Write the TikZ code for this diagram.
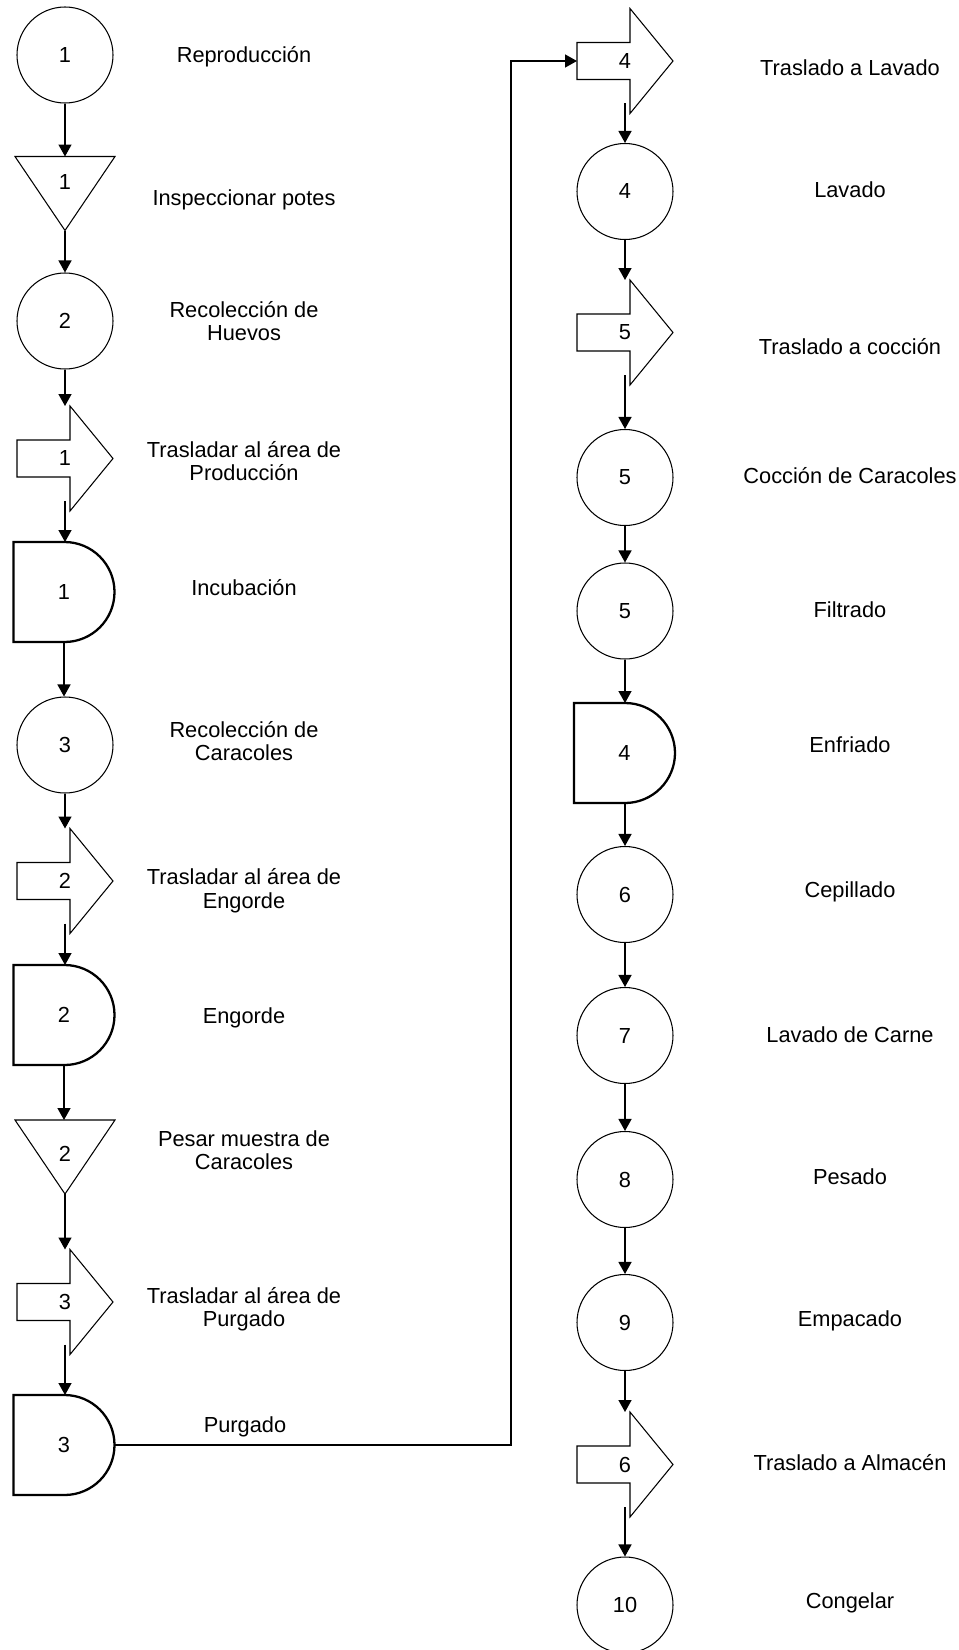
\documentclass[tikz,border=0pt]{standalone}
\usepackage{fontspec}
\setmainfont{Liberation Sans}
\usetikzlibrary{arrows.meta,calc}

\tikzset{
  caja/.style={rectangle, inner sep=0pt, outer sep=0pt, font=\fontsize{12.4}{13.4}\selectfont},
  operacion/.style={circle, draw, line width=0.6pt, minimum size=19.2mm, inner sep=0pt, font=\fontsize{12.4}{13.4}\selectfont},
  borde/.style={line width=0.6pt},
  bordegrueso/.style={line width=1.3pt},
  flecha/.style={line width=0.8pt, -{Triangle[width=2.6mm,length=2.4mm]}},
  desdetraslado/.style={flecha, shorten <=-2mm},
  texto/.style={align=center, font=\fontsize{12.4}{13.4}\selectfont}
}

% transporte: nombre, posicion, numero
\newcommand{\traslado}[3]{%
  \node[caja, minimum width=19.2mm, minimum height=21mm] (#1) at (#2) {#3};
  \draw[borde] (#1.west) ++(0,1.85) -- ++(5.3,0) -- ++(0,3.4) -- (#1.east)
    -- ++(-4.3,-5.25) -- ++(0,3.4) -- ++(-5.3,0) -- cycle;}

% inspeccion: nombre, posicion, numero, subida del numero
\newcommand{\inspeccion}[4]{%
  \node[caja, minimum width=20mm, minimum height=14.8mm] (#1) at (#2) {};
  \node[caja] (#1n) at ($(#1.center)+(0,#4)$) {#3};
  \draw[borde] (#1.north west) -- (#1.north east) -- (#1.south) -- cycle;}

% demora: nombre, posicion, numero
\newcommand{\demora}[3]{%
  \node[caja, minimum width=20.2mm, minimum height=20mm] (#1) at (#2) {#3};
  \draw[bordegrueso] (#1.north west) -- ++(5.1,0)
    arc[start angle=90, end angle=-90, radius=5] -- (#1.south west) -- cycle;}

\begin{document}
\begin{tikzpicture}[x=2mm, y=2mm]

  \useasboundingbox (0,0) rectangle (95.9,-165);

  % Columna izquierda
  \node[operacion] (rep) at (6.5,-5.5) {1};
  \inspeccion{insp}{6.5,-19.35}{1}{1.1}
  \node[operacion] (rech) at (6.5,-32.1) {2};
  \traslado{trp}{6.5,-45.85}{1}
  \demora{inc}{6.4,-59.2}{1}
  \node[operacion] (recc) at (6.5,-74.5) {3};
  \traslado{tre}{6.5,-88.1}{2}
  \demora{eng}{6.4,-101.5}{2}
  \inspeccion{pes}{6.5,-115.7}{2}{0.3}
  \traslado{trpu}{6.5,-130.2}{3}
  \demora{pur}{6.4,-144.5}{3}

  % Columna derecha
  \traslado{trl}{62.5,-6.1}{4}
  \node[operacion] (lav) at (62.5,-19.15) {4};
  \traslado{trc}{62.5,-33.25}{5}
  \node[operacion] (coc) at (62.5,-47.75) {5};
  \node[operacion] (fil) at (62.5,-61.1) {5};
  \demora{enf}{62.45,-75.3}{4}
  \node[operacion] (cep) at (62.5,-89.45) {6};
  \node[operacion] (lcar) at (62.5,-103.55) {7};
  \node[operacion] (pesd) at (62.5,-117.95) {8};
  \node[operacion] (emp) at (62.5,-132.25) {9};
  \traslado{tra}{62.5,-146.45}{6}
  \node[operacion] (con) at (62.5,-160.5) {10};

  % Conectores izquierda
  \draw[flecha] (rep.south) -- (insp.north);
  \draw[flecha] (insp.south) -- (rech.north);
  \draw[flecha] (rech.south) -- (trp.north);
  \draw[desdetraslado] (trp.south) -- (inc.north -| trp.south);
  \draw[flecha] (inc.south) -- (recc.north -| inc.south);
  \draw[flecha] (recc.south) -- (tre.north);
  \draw[desdetraslado] (tre.south) -- (eng.north -| tre.south);
  \draw[flecha] (eng.south) -- (pes.north -| eng.south);
  \draw[flecha] (pes.south) -- (trpu.north);
  \draw[desdetraslado] (trpu.south) -- (pur.north -| trpu.south);

  % Paso a la columna derecha
  \coordinate (giro) at (51.1,-144.5);
  \draw[flecha] (pur.east) -- (giro) |- (trl.west);

  % Conectores derecha
  \draw[desdetraslado] (trl.south) -- (lav.north);
  \draw[flecha] (lav.south) -- (trc.north);
  \draw[desdetraslado] (trc.south) -- (coc.north);
  \draw[flecha] (coc.south) -- (fil.north);
  \draw[flecha] (fil.south) -- (enf.north -| fil.south);
  \draw[flecha] (enf.south -| cep.north) -- (cep.north);
  \draw[flecha] (cep.south) -- (lcar.north);
  \draw[flecha] (lcar.south) -- (pesd.north);
  \draw[flecha] (pesd.south) -- (emp.north);
  \draw[flecha] (emp.south) -- (tra.north);
  \draw[desdetraslado] (tra.south) -- (con.north);

  % Textos izquierda
  \node[texto] (lrep) at (24.4,-5.7) {Reproducción};
  \node[texto] (linsp) at (24.4,-20) {Inspeccionar potes};
  \node[texto] (lrech) at (24.4,-32.1) {Recolección de\\Huevos};
  \node[texto] (ltrp) at (24.4,-46.1) {Trasladar al área de\\Producción};
  \node[texto] (linc) at (24.4,-58.8) {Incubación};
  \node[texto] (lrecc) at (24.4,-74.1) {Recolección de\\Caracoles};
  \node[texto] (ltre) at (24.4,-89.1) {Trasladar al área de\\Engorde};
  \node[texto] (leng) at (24.4,-101.8) {Engorde};
  \node[texto] (lpes) at (24.4,-115) {Pesar muestra de\\Caracoles};
  \node[texto] (ltrpu) at (24.4,-130.9) {Trasladar al área de\\Purgado};
  \node[texto] (lpur) at (24.5,-142.7) {Purgado};

  % Textos derecha
  \node[texto] (ltrl) at (85,-6.8) {Traslado a Lavado};
  \node[texto] (llav) at (85,-19) {Lavado};
  \node[texto] (ltrc) at (85,-34.7) {Traslado a cocción};
  \node[texto] (lcoc) at (85,-47.6) {Cocción de Caracoles};
  \node[texto] (lfil) at (85,-61) {Filtrado};
  \node[texto] (lenf) at (85,-74.5) {Enfriado};
  \node[texto] (lcep) at (85,-89.2) {Cepillado};
  \node[texto] (llcar) at (85,-103.5) {Lavado de Carne};
  \node[texto] (lpesd) at (85,-117.7) {Pesado};
  \node[texto] (lemp) at (85,-132.1) {Empacado};
  \node[texto] (ltra) at (85,-146.3) {Traslado a Almacén};
  \node[texto] (lcon) at (85,-160.3) {Congelar};

\end{tikzpicture}
\end{document}
